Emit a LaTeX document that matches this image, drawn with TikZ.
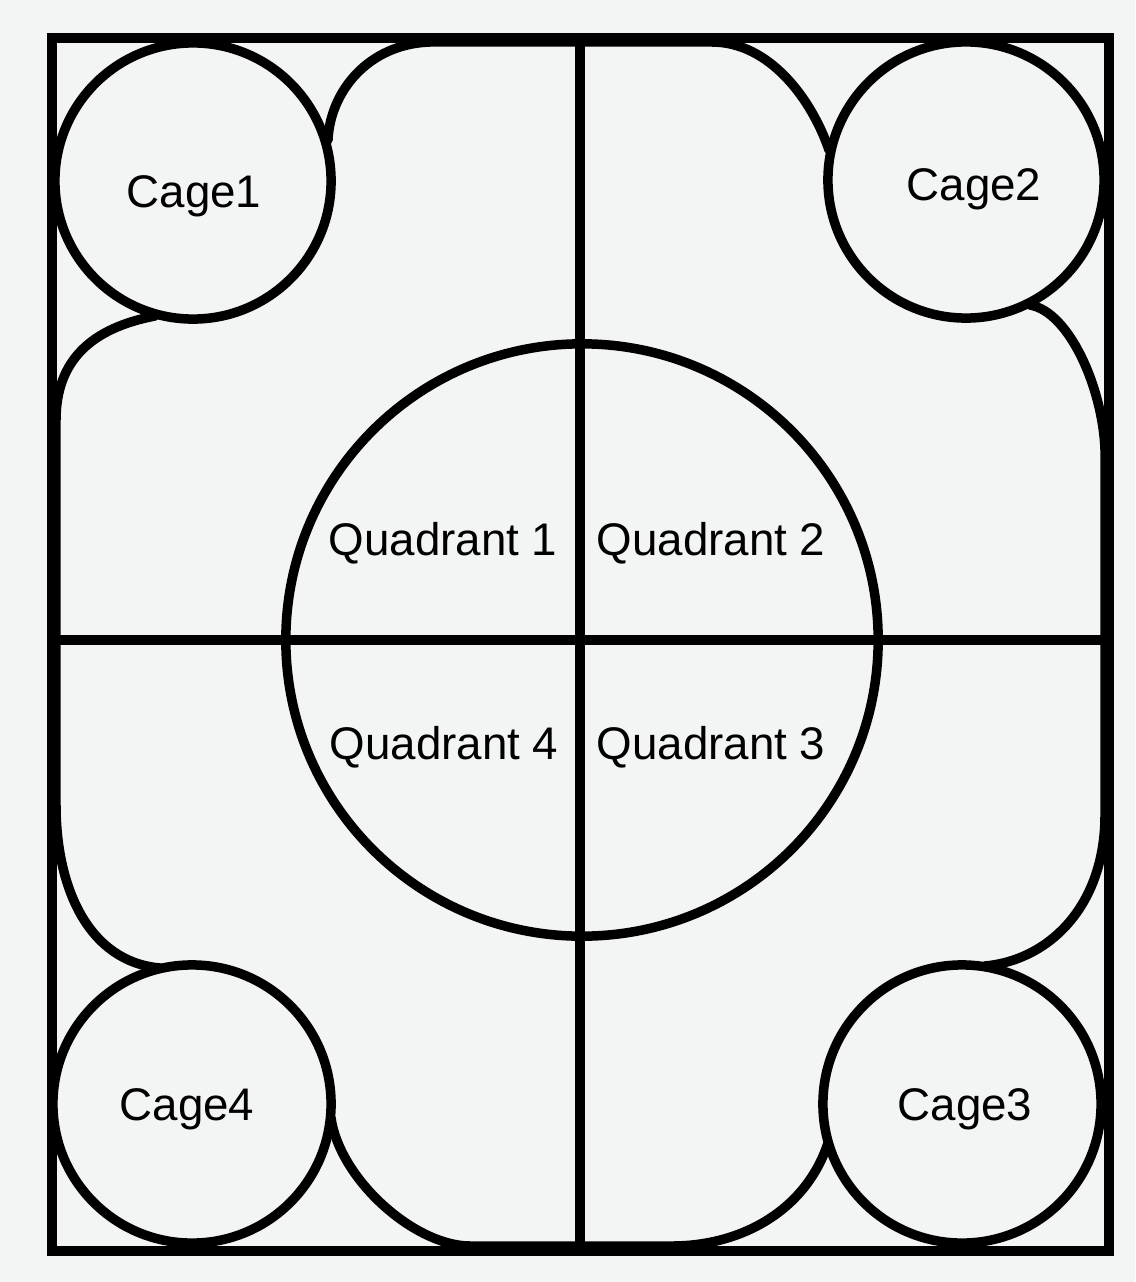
\documentclass[tikz,border=0pt]{standalone}
\usepackage{fontspec}
\setmainfont{Liberation Sans}
\definecolor{paper}{RGB}{243,245,244}
\begin{document}
\begin{tikzpicture}[x=0.01cm,y=-0.01cm]
\tikzset{
  ln/.style={line width=2.7pt, draw=black},
  frame/.style={line width=3pt, draw=black},
  blob/.style={line width=2.7pt, draw=black, line cap=round, line join=round},
  lbl/.style={font=\fontsize{13}{15}\selectfont, inner sep=0pt, anchor=base, text=black},
}
\fill[paper] (0,0) rectangle (1135,1282);
\useasboundingbox (0,0) rectangle (1135,1282);

% coordinates
\coordinate (c1) at (193,181);
\coordinate (c2) at (966,180);
\coordinate (c3) at (962,1104);
\coordinate (c4) at (192,1104);
\coordinate (cm) at (582,640);

% frame
\draw[frame] (52,38) rectangle (1109,1251);

% cages
\draw[ln] (c1) circle[radius=1.38cm];
\draw[ln] (c2) circle[radius=1.38cm];
\draw[ln] (c3) circle[radius=1.39cm];
\draw[ln] (c4) circle[radius=1.39cm];

% central circle
\draw[ln] (cm) circle[radius=2.96cm];

% cross
\coordinate (vt) at (580,38);
\coordinate (vb) at (580,1251);
\coordinate (hl) at (52,640);
\coordinate (hr) at (1109,640);
\draw[ln] (vt) -- (vb);
\draw[ln] (hl) -- (hr);

% blob connectors
\draw[blob] (328,140) .. controls (330,92) and (368,44) .. (430,42)
  -- (712,42) .. controls (770,42) and (812,100) .. (829,150);
\draw[blob] (1030,305) .. controls (1070,312) and (1103,390) .. (1105,450)
  -- (1105,815) .. controls (1105,905) and (1050,960) .. (985,966);
\draw[blob] (828,1143) .. controls (806,1210) and (742,1246) .. (672,1246)
  -- (470,1246) .. controls (415,1246) and (340,1180) .. (331,1118);
\draw[blob] (160,968) .. controls (90,962) and (56,890) .. (56,805)
  -- (56,420) .. controls (56,360) and (92,328) .. (155,316);

% labels
\node[lbl] (cage1) at (194,208) {Cage1};
\node[lbl] (cage2) at (974,200) {Cage2};
\node[lbl] (cage3) at (965,1120) {Cage3};
\node[lbl] (cage4) at (187,1120) {Cage4};
\node[lbl] (q1) at (443,555) {Quadrant 1};
\node[lbl] (q2) at (711,555) {Quadrant 2};
\node[lbl] (q3) at (711,759) {Quadrant 3};
\node[lbl] (q4) at (444,759) {Quadrant 4};
\end{tikzpicture}
\end{document}
